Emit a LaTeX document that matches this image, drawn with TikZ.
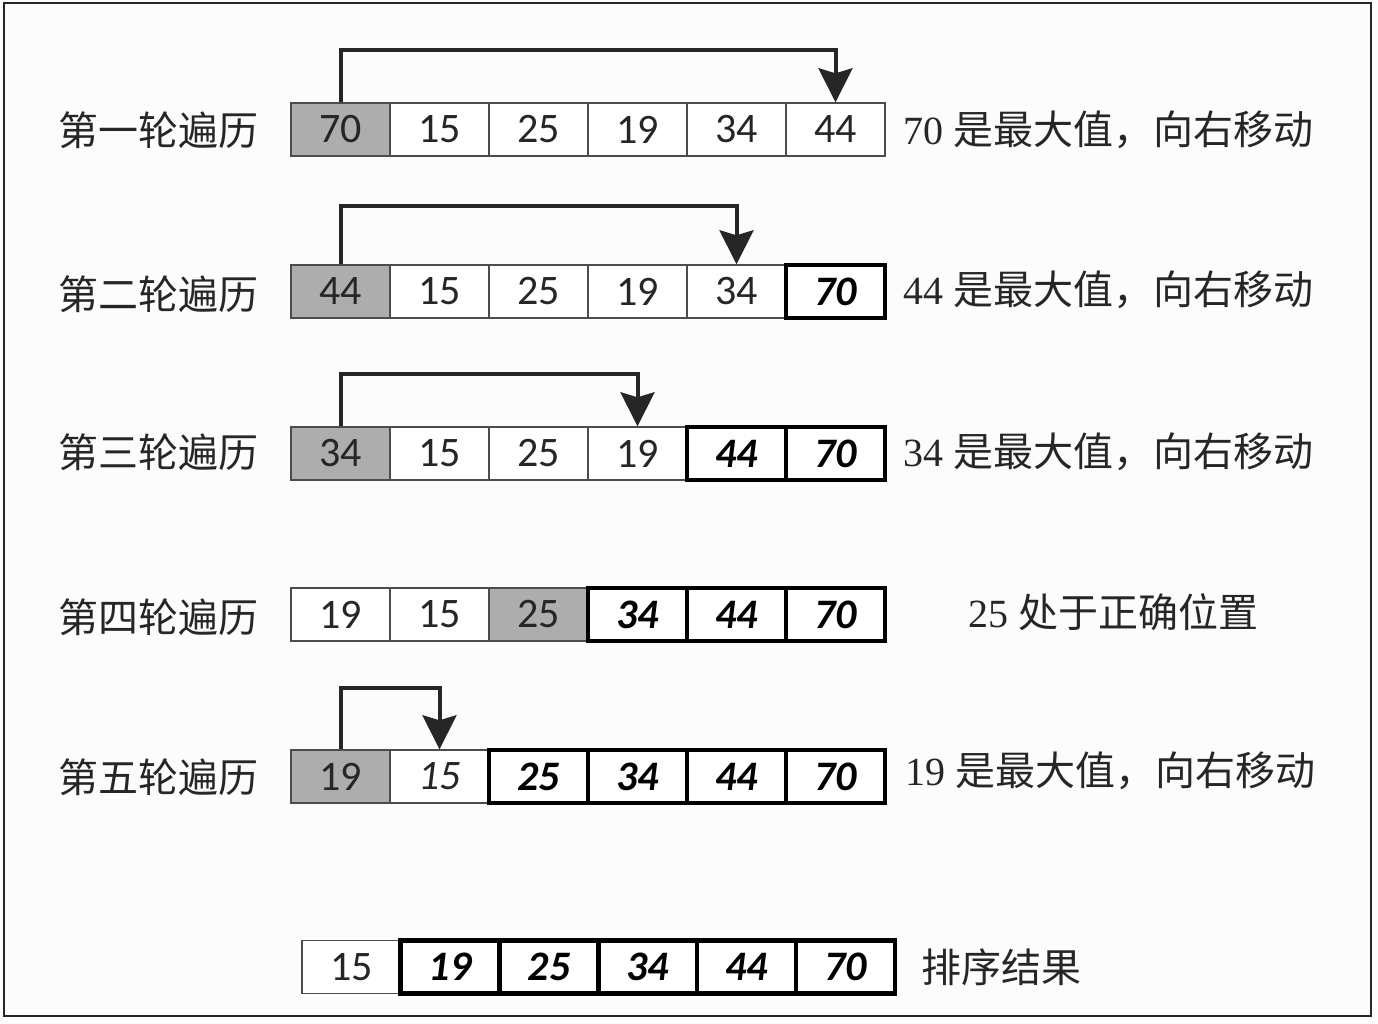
\documentclass[tikz,border=0pt]{standalone}
\usepackage{fontspec}
\setmainfont{Liberation Serif}
\newfontfamily\cjk{Noto Sans CJK SC}
\newfontfamily\numf{Carlito}
\usetikzlibrary{arrows.meta}
\tikzset{
  cell/.style={draw=black!70, line width=1.4pt, fill=white, minimum width=99pt, minimum height=53pt, inner sep=0pt, text=black!85, font=\fontsize{42}{42}\selectfont\numf},
  hl/.style={cell, fill=black!32},
  itc/.style={cell, font=\fontsize{42}{42}\selectfont\numf\itshape},
  done/.style={cell, draw=black, line width=4.5pt, text=black, font=\fontsize{42}{42}\selectfont\numf\bfseries\itshape},
  rowlab/.style={font=\fontsize{40}{40}\selectfont\cjk, text=black!85},
  note/.style={anchor=west, font=\fontsize{40}{40}\selectfont, text=black!85},
  arr/.style={line width=4pt, black!85, -{Stealth[length=34pt,width=34pt,inset=5pt]}}
}
\begin{document}
\begin{tikzpicture}[x=1pt,y=-1pt]
\useasboundingbox (0,0) rectangle (1378,1024);
\fill[white!99!black] (0,0) rectangle (1378,1024);
\draw[line width=2.5pt, black!85] (4,3) rectangle (1371,1016);

% Row 1
\node[rowlab] (l1) at (158,130) {第一轮遍历};
\node[hl]  (a1) at (340.5,129.5) {70};
\node[cell] (a2) at (439.5,129.5) {15};
\node[cell] (a3) at (538.5,129.5) {25};
\node[cell] (a4) at (637.5,129.5) {19};
\node[cell] (a5) at (736.5,129.5) {34};
\node[cell] (a6) at (835.5,129.5) {44};
\node[note] (n1) at (900,130) {70 {\cjk 是最大值，向右移动}};
\draw[arr] (a1.north) -- ++(0,-52) -| (a6.north);

% Row 2
\node[rowlab] (l2) at (158,294) {第二轮遍历};
\node[hl]  (b1) at (340.5,291.5) {44};
\node[cell] (b2) at (439.5,291.5) {15};
\node[cell] (b3) at (538.5,291.5) {25};
\node[cell] (b4) at (637.5,291.5) {19};
\node[cell] (b5) at (736.5,291.5) {34};
\node[done] (b6) at (835.5,291.5) {70};
\node[note] (n2) at (900,290) {44 {\cjk 是最大值，向右移动}};
\draw[arr] (b1.north) -- ++(0,-58) -| (b5.north);

% Row 3
\node[rowlab] (l3) at (158,452) {第三轮遍历};
\node[hl]  (c1) at (340.5,453.5) {34};
\node[cell] (c2) at (439.5,453.5) {15};
\node[cell] (c3) at (538.5,453.5) {25};
\node[cell] (c4) at (637.5,453.5) {19};
\node[done] (c5) at (736.5,453.5) {44};
\node[done] (c6) at (835.5,453.5) {70};
\node[note] (n3) at (900,452) {34 {\cjk 是最大值，向右移动}};
\draw[arr] (c1.north) -- ++(0,-52) -| (c4.north);

% Row 4
\node[rowlab] (l4) at (158,617) {第四轮遍历};
\node[cell] (d1) at (340.5,614.5) {19};
\node[cell] (d2) at (439.5,614.5) {15};
\node[hl]  (d3) at (538.5,614.5) {25};
\node[done] (d4) at (637.5,614.5) {34};
\node[done] (d5) at (736.5,614.5) {44};
\node[done] (d6) at (835.5,614.5) {70};
\node[note] (n4) at (965,612) {25 {\cjk 处于正确位置}};

% Row 5
\node[rowlab] (l5) at (158,777) {第五轮遍历};
\node[hl]  (e1) at (340.5,776.5) {19};
\node[itc] (e2) at (439.5,776.5) {15};
\node[done] (e3) at (538.5,776.5) {25};
\node[done] (e4) at (637.5,776.5) {34};
\node[done] (e5) at (736.5,776.5) {44};
\node[done] (e6) at (835.5,776.5) {70};
\node[note] (n5) at (902,771) {19 {\cjk 是最大值，向右移动}};
\draw[arr] (e1.north) -- ++(0,-61) -| (e2.north);

% Result
\node[cell] (f1) at (351.4,967) {15};
\node[done] (f2) at (450.2,967) {19};
\node[done] (f3) at (549.0,967) {25};
\node[done] (f4) at (647.8,967) {34};
\node[done] (f5) at (746.6,967) {44};
\node[done] (f6) at (845.4,967) {70};
\node[note] (n6) at (918,967) {\cjk 排序结果};
\end{tikzpicture}
\end{document}
